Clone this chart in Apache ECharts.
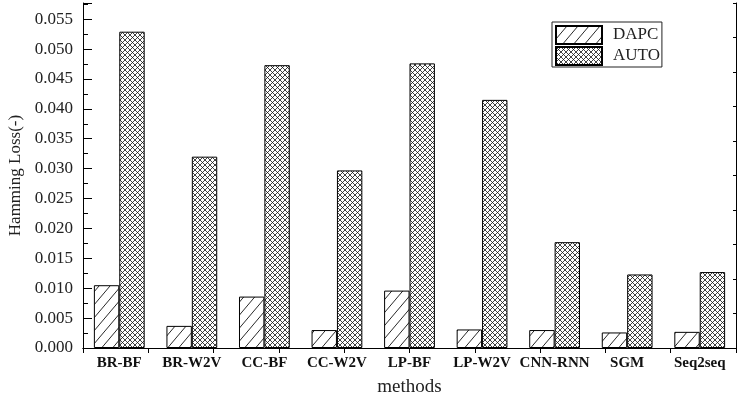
<!DOCTYPE html>
<html><head><meta charset="utf-8">
<script src="https://cdn.jsdelivr.net/npm/echarts@6/dist/echarts.min.js"></script>
<style>html,body{margin:0;padding:0;background:#fff}#c{width:737px;height:401px}</style>
</head><body><div id="c"></div>
<script>
var categories = ['BR-BF','BR-W2V','CC-BF','CC-W2V','LP-BF','LP-W2V','CNN-RNN','SGM','Seq2seq'];
var dapc = [0.0105, 0.0037, 0.0086, 0.0030, 0.0096, 0.0031, 0.0030, 0.0026, 0.0027];
var auto = [0.0529, 0.0320, 0.0473, 0.0297, 0.0476, 0.0415, 0.0177, 0.0123, 0.0127];
var yTicks = {min: 0, max: 0.0577, interval: 0.005};

function diagPattern(w,h){
  var c=document.createElement('canvas'); c.width=w; c.height=h;
  var g=c.getContext('2d'); g.fillStyle='#fff'; g.fillRect(0,0,w,h);
  g.strokeStyle='#111'; g.lineWidth=0.9;
  g.beginPath();
  for(var k=-1;k<=1;k++){
    g.moveTo(k*w-0.5, h+0.5*h/w); g.lineTo(k*w+w+0.5, -0.5*h/w);
  }
  g.stroke(); return c;
}
function crossPattern(p){
  var c=document.createElement('canvas'); c.width=p; c.height=p;
  var g=c.getContext('2d'); g.fillStyle='#fff'; g.fillRect(0,0,p,p);
  g.strokeStyle='#111'; g.lineWidth=0.8;
  g.beginPath();
  g.moveTo(-1,p+1); g.lineTo(p+1,-1);
  g.moveTo(-1,-1); g.lineTo(p+1,p+1);
  g.stroke(); return c;
}
var serif = '"Liberation Serif", "Times New Roman", serif';
var chart = echarts.init(document.getElementById('c'));
chart.setOption({
  animation:false,
  backgroundColor:'#fff',
  grid:{left:83,right:1,top:3,bottom:53,containLabel:false,outerBoundsMode:'none'},
  legend:{
    orient:'vertical', left:552, top:22, padding:[3,2,1,3],
    borderColor:'#222', borderWidth:1, itemGap:1, itemWidth:46, itemHeight:18,
    icon:'rect',
    textStyle:{fontFamily:serif,fontSize:17,color:'#222',padding:[0,0,0,6]},
    data:['DAPC','AUTO']
  },
  xAxis:[{
    type:'category', data:categories, position:'bottom',
    axisLine:{lineStyle:{color:'#000',width:1}},
    axisTick:{show:false},
    axisLabel:{fontFamily:serif,fontWeight:'bold',fontSize:15,color:'#111',margin:8,interval:0},
    name:'methods', nameLocation:'middle', nameGap:30,
    nameTextStyle:{fontFamily:serif,fontSize:19,color:'#222'}
  },{
    type:'value', position:'top', min:0, max:10, interval:1,
    axisLine:{show:true,lineStyle:{color:'#000'}},
    axisTick:{show:true,inside:true,length:5,lineStyle:{color:'#000'}},
    axisLabel:{show:false}, splitLine:{show:false}
  }],
  yAxis:[{
    type:'value', min:yTicks.min, max:yTicks.max, interval:yTicks.interval,
    axisLine:{show:true,lineStyle:{color:'#000'}},
    axisTick:{show:true,inside:true,length:9,lineStyle:{color:'#000'}},
    minorTick:{show:true,splitNumber:2,length:5,lineStyle:{color:'#000'}},
    splitLine:{show:false},
    axisLabel:{fontFamily:serif,fontSize:17,color:'#222',margin:10,showMaxLabel:false,
      formatter:function(v){return v.toFixed(3);}},
    name:'Hamming Loss(-)', nameLocation:'middle', nameGap:58,
    nameTextStyle:{fontFamily:serif,fontSize:17,color:'#222'}
  },{
    type:'value', position:'right', min:0, max:10, interval:1,
    axisLine:{show:true,lineStyle:{color:'#000'}},
    axisTick:{show:true,inside:true,length:3,lineStyle:{color:'#000'}},
    axisLabel:{show:false}, splitLine:{show:false}
  }],
  series:[{
    name:'DAPC', type:'bar', data:dapc, barGap:'0%', barCategoryGap:'30%',
    itemStyle:{color:{image:diagPattern(11,13),repeat:'repeat'},borderColor:'#000',borderWidth:1}
  },{
    name:'AUTO', type:'bar', data:auto, barGap:'0%', barCategoryGap:'30%',
    itemStyle:{color:{image:crossPattern(5),repeat:'repeat'},borderColor:'#000',borderWidth:1}
  }]
});
</script></body></html>
